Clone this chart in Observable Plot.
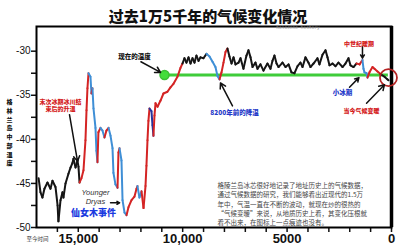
<!DOCTYPE html>
<html><head><meta charset="utf-8">
<script src="https://cdn.jsdelivr.net/npm/d3@7"></script>
<script src="https://cdn.jsdelivr.net/npm/@observablehq/plot@0.6"></script>
<style>body{margin:0;background:#fff}</style>
</head><body><div id="chart"></div>
<script>
// ---- data (years before present, central Greenland temperature °C) ----
const years = [16900,16810,16715,16620,16475,16330,16235,16090,15990,15950,15850,15755,15710,15610,15470,15370,15280,15230,15130,15040,14990,
  14940,14845,14750,14655,14605,14560,14510,14415,14370,14320,14270,14175,14130,14080,14035,13935,13840,13745,13650,13550,13455,13360,13315,13220,
  13120,13075,13025,12930,12880,12785,12690,12595,12450,12310,12210,12165,12070,11970,11875,11780,11735,11685,11640,11590,11495,11445,11400,11350,
  11300,11205,11060,10920,10730,10585,10440,10250,10105,10010,9915,9820,9720,9625,9530,9435,9340,9240,9145,9005,8860,8715,8570,8430,8335,8235,8140,
  8045,7950,7855,7760,7660,7565,7470,7325,7230,7090,6945,6850,6750,6655,6515,6415,6275,6130,5940,5795,5700,5605,5505,5410,5220,5075,4930,4790,4645,
  4500,4360,4260,4120,3975,3880,3735,3545,3450,3305,3160,3065,2970,2825,2680,2540,2345,2205,2060,1965,1820,1675,1530,1390,1340,1295,1195,1150,1055,
  910,815,670,525,335,190,145];
const temps = [-44.4,-46.0,-46.6,-45.6,-44.9,-45.6,-44.7,-45.4,-47.5,-49.3,-46.9,-46.0,-46.6,-45.0,-43.9,-43.2,-42.7,-42.2,-43.2,-42.4,-43.1,
  -44.9,-44.4,-43.5,-40.1,-36.7,-34.2,-32.5,-32.9,-34.8,-34.2,-36.5,-38.7,-41.3,-42.6,-39.2,-38.7,-39.0,-39.8,-39.0,-38.7,-39.6,-41.0,-43.8,-45.1,
  -45.5,-41.5,-41.0,-42.4,-46.9,-48.3,-48.6,-47.7,-46.9,-46.5,-45.6,-45.3,-46.6,-45.9,-47.8,-45.3,-43.0,-40.1,-37.9,-36.5,-36.8,-38.4,-39.6,-37.3,
  -35.9,-36.3,-35.6,-34.8,-34.6,-34.1,-33.7,-32.9,-31.9,-31.4,-30.8,-31.3,-30.7,-31.4,-30.8,-31.3,-30.5,-31.1,-30.7,-30.8,-30.3,-30.6,-31.2,-31.8,-32.8,-33.2,-32.4,
  -31.3,-30.1,-29.7,-30.6,-31.4,-30.7,-31.5,-31.3,-30.8,-32.0,-30.5,-29.9,-30.7,-31.8,-31.3,-32.0,-31.5,-32.2,-31.4,-32.0,-31.1,-30.5,-31.4,-31.8,-31.3,-31.8,-31.5,-32.4,-32.5,
  -31.7,-31.3,-31.8,-30.7,-31.3,-31.8,-31.4,-30.8,-31.5,-30.4,-29.9,-30.7,-31.6,-31.4,-31.7,-31.3,-31.8,-31.4,-30.8,-31.6,-31.8,-31.4,-31.5,-31.0,-32.0,-32.4,-32.5,-33.0,-32.4,
  -31.8,-32.0,-32.3,-32.6,-32.9,-33.2,-33.3];
// phase of each segment: k = record, r = warming, b = cooling, n = cooling (dark)
const phases = ("kkkkkkkkkkkkkkkkkkkkk" + "rrrrrr" + "bb" + "r" + "bbbb" + "rr" + "bb" + "rr" + "bbbbb" + "rr" + "bbbb" + "rrrrr" + "bb" +
  "rrrrrr" + "nnn" + "rrrrrrrrrrr" + "kkkkkkkkkkk" + "bbbbb" + "rrrr" + "k".repeat(48) + "rr" + "bbbb" + "rrrrr" + "kkkk").split("");

const presentTemp = -32.7;          // green "present temperature" line
const presentFrom = 10870, presentTo = 150;
const yTicks = [-50,-47.5,-45,-42.5,-40,-37.5,-35,-32.5,-30];
const yLabels = [-50,-45,-40,-35,-30];
const xTicks = [16000,15000,14000,13000,12000,11000,10000,9000,8000,7000,6000,5000,4000,3000,2000,1000,0];
const xLabels = {15000:"15,000", 10000:"10,000", 5000:"5000", 0:"0"};

const title = "过去1万5千年的气候变化情况";
const watermark = "holocene-history";
const yTitle = "格林兰岛中部温度";
const xTitle = "至今时间";
const note = ["格陵兰岛冰芯很好地记录了地址历史上的气候数据，",
  "通过气候数据的研究，我们能够看出近现代的1.5万",
  "年中，气温一直在不断的波动，就现在炒的很热的",
  "“气候变暖”来说，从地质历史上看，其变化压根就",
  "看不出来，在图标上一点痕迹也没有。"];

const redNotes = [{t:"末次冰期冰川结\n束后的升温", x:15850, y:-36.1}, {t:"中世纪暖期", x:1560, y:-29.1}, {t:"当今气候变暖", x:1435, y:-36.7}];
const blueNotes = [{t:"8200年前的降温", x:7520, y:-37.0}, {t:"小冰期", x:2345, y:-34.7}];
const arrows = [
  {x1:12000, y1:-31.2, x2:11060, y2:-32.4},
  {x1:15420, y1:-37.2, x2:15035, y2:-42.5},
  {x1:13455, y1:-47.2, x2:13020, y2:-47.2},
  {x1:7615, y1:-36.2, x2:8190, y2:-33.6},
  {x1:1390, y1:-29.5, x2:1390, y2:-30.8},
  {x1:2010, y1:-34.1, x2:1560, y2:-33.0},
  {x1:1195, y1:-35.9, x2:335, y2:-33.8}
];

const colorOf = {k:"#151515", r:"#d42424", b:"#3f8fd6", n:"#28349c"};
const segs = years.slice(0,-1).map((y,i)=>({x1:y, y1:temps[i], x2:years[i+1], y2:temps[i+1], c:colorOf[phases[i]]}));

const CJK = "'Noto Sans CJK SC', sans-serif";
const chart = Plot.plot({
  width: 400, height: 250,
  marginLeft: 36, marginRight: 9, marginTop: 26, marginBottom: 23,
  style: {fontFamily: "'Liberation Sans', Arial, sans-serif", background: "#fff", color: "#111"},
  x: {domain: [17000, 0]},
  y: {domain: [-50, -27.2]},
  marks: [
    Plot.axisY({ticks: yTicks, tickSize: 5, tickPadding: 1, fontSize: 10, tickFormat: d => yLabels.includes(d) ? String(d) : "", strokeWidth: 1.5, label: null}),
    Plot.axisX({ticks: xTicks, tickSize: 5, tickPadding: 1, fontSize: 13, fontWeight: "bold", tickFormat: d => xLabels[d] ?? "", strokeWidth: 1.5, label: null}),
    Plot.frame({stroke: "#000", strokeWidth: 2}),
    Plot.ruleX([0], {stroke: "#000", strokeWidth: 3.5}),
    Plot.ruleY([presentTemp], {x1: presentFrom, x2: presentTo, stroke: "#3fcc3a", strokeWidth: 3}),
    Plot.link(segs, {x1:"x1", y1:"y1", x2:"x2", y2:"y2", stroke: d => d.c, strokeWidth: 2, strokeLinecap: "round", strokeLinejoin: "round"}),
    Plot.dot([{x: presentFrom, y: presentTemp}], {x:"x", y:"y", r: 4.5, fill: "#44dd3c", stroke: "#3cc034"}),
    Plot.dot([{x: 145, y: -33.0}], {x:"x", y:"y", r: 8.5, fill: "none", stroke: "#b52424", strokeWidth: 1.8}),
    Plot.arrow(arrows, {x1:"x1", y1:"y1", x2:"x2", y2:"y2", stroke: "#111", strokeWidth: 1.5, headLength: 6, bend: 0}),
    Plot.text(redNotes, {x:"x", y:"y", text:"t", fill:"#d42020", fontSize: 6, fontWeight: "900", fontFamily: CJK, lineHeight: 1.3}),
    Plot.text(blueNotes, {x:"x", y:"y", text:"t", fill:"#2438c8", fontSize: 6.5, fontWeight: "900", fontFamily: CJK}),
    Plot.text([{t:"现在的温度", x:12310, y:-30.7}], {x:"x", y:"y", text:"t", fill:"#111", fontSize: 6.5, fontWeight: "900", fontFamily: CJK}),
    Plot.text([{t:"Younger\nDryas", x:14175, y:-46.5}], {x:"x", y:"y", text:"t", fill:"#333", fontSize: 7.5, fontStyle: "italic", fontFamily: "'Liberation Sans', sans-serif", lineHeight: 1.2}),
    Plot.text([{t:"仙女木事件", x:14270, y:-48.4}], {x:"x", y:"y", text:"t", fill:"#1a3ae0", fontSize: 9, fontWeight: "900", fontFamily: CJK}),
    Plot.text([note.join("\n")], {x: 8330, y: -47.3, text: d => d, textAnchor: "start", fill: "#444", fontSize: 6.5, fontFamily: CJK, lineHeight: 1.42}),
    Plot.text([title], {frameAnchor: "top", dx: -6, dy: -15, fontSize: 15, fontWeight: "900", fontFamily: CJK, fill: "#111"}),
    Plot.text([watermark], {frameAnchor: "top", dx: 84, dy: -1, fontSize: 4.5, fill: "#999", fontFamily: "'DejaVu Sans Mono', monospace"}),
    Plot.text([yTitle.split("").join("\n")], {frameAnchor: "left", dx: -30, dy: 5, fontSize: 6, fontWeight: "900", fontFamily: CJK, lineHeight: 1.45, fill: "#111"}),
    Plot.text([xTitle], {frameAnchor: "bottom-left", dx: -10, dy: 13, textAnchor: "start", fontSize: 5.5, fontFamily: CJK, fill: "#333"})
  ]
});
document.getElementById("chart").appendChild(chart);
</script>
</body></html>
